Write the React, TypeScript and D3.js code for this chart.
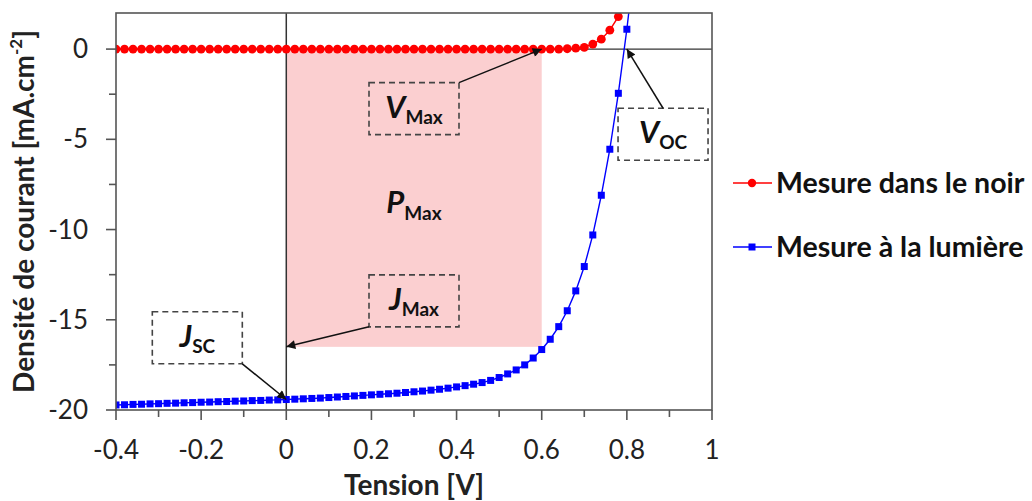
import React from "react";
import * as d3 from "d3";

const voltages = [
  -0.4, -0.38, -0.36, -0.34, -0.32, -0.3, -0.28, -0.26, -0.24, -0.22,
  -0.2, -0.18, -0.16, -0.14, -0.12, -0.1, -0.08, -0.06, -0.04, -0.02,
  0, 0.02, 0.04, 0.06, 0.08, 0.1, 0.12, 0.14, 0.16, 0.18,
  0.2, 0.22, 0.24, 0.26, 0.28, 0.3, 0.32, 0.34, 0.36, 0.38,
  0.4, 0.42, 0.44, 0.46, 0.48, 0.5, 0.52, 0.54, 0.56, 0.58,
  0.6, 0.62, 0.64, 0.66, 0.68, 0.7, 0.72, 0.74, 0.76, 0.78,
  0.8, 0.82,
];

const darkJ = [
  0, 0, 0, 0, 0, 0, 0, 0, 0, 0,
  0, 0, 0, 0, 0, 0, 0, 0, 0, 0,
  0, 0, 0, 0, 0, 0, 0, 0, 0, 0,
  0, 0, 0, 0, 0, 0, 0, 0, 0, 0,
  0, 0, 0, 0, 0, 0, 0, 0, 0, 0,
  0, 0, 0, 0.02, 0.05, 0.1, 0.28, 0.55, 1.05, 1.8,
  3.0, 5.0,
];

const lightJ = [
  -19.72, -19.71, -19.69, -19.68, -19.66, -19.65, -19.63, -19.62, -19.6, -19.59,
  -19.57, -19.56, -19.54, -19.53, -19.51, -19.5, -19.48, -19.47, -19.45, -19.44,
  -19.42, -19.4, -19.38, -19.36, -19.34, -19.31, -19.28, -19.25, -19.22, -19.19,
  -19.16, -19.13, -19.1, -19.07, -19.03, -18.99, -18.95, -18.9, -18.85, -18.79,
  -18.72, -18.65, -18.57, -18.48, -18.36, -18.2, -18.0, -17.78, -17.5, -17.12,
  -16.65, -16.08, -15.38, -14.5, -13.4, -12.05, -10.3, -8.1, -5.55, -2.45,
  1.1, 5.2,
];

const seriesNames = ["Mesure dans le noir", "Mesure à la lumière"];

const xTicks = [-0.4, -0.2, 0, 0.2, 0.4, 0.6, 0.8, 1];
const xTickLabels = ["-0.4", "-0.2", "0", "0.2", "0.4", "0.6", "0.8", "1"];
const xMinorTicks = [-0.3, -0.1, 0.1, 0.3, 0.5, 0.7, 0.9];
const yTicks = [0, -5, -10, -15, -20];
const yTickLabels = ["0", "-5", "-10", "-15", "-20"];
const yMinorTicks = [-2.5, -7.5, -12.5, -17.5];

// max power rectangle (V, J corners)
const pMaxV = [0, 0.6];
const pMaxJ = [0, -16.5];

// annotations: main letter, subscript, box center (V, J), arrow tip (V, J), arrow start corner
const annMain = ["V", "J", "V", "J"];
const annSub = ["Max", "Max", "OC", "SC"];
const annBoxV = [0.3, 0.3, 0.885, -0.209];
const annBoxJ = [-3.3, -13.95, -4.72, -16.0];
const annTipV = [0.6, 0, 0.8, 0];
const annTipJ = [0, -16.5, 0, -19.42];
const annAnchor = ["tr", "bl", "tc", "br"];

const W = 1032;
const H = 501;
const left = 116;
const right = 712;
const top = 13;
const bottom = 410;
const FONT = "Lato, 'Open Sans', sans-serif";

export default function App() {
  const x = d3.scaleLinear().domain([-0.4, 1]).range([left, right]);
  const y = d3.scaleLinear().domain([-20, 2]).range([bottom, top]);

  const darkData = voltages.map((v, i) => [v, darkJ[i]] as [number, number]);
  const lightData = voltages.map((v, i) => [v, lightJ[i]] as [number, number]);
  const line = d3
    .line<[number, number]>()
    .x((d) => x(d[0]))
    .y((d) => y(d[1]));

  const boxW = 90;
  const boxH = 52;

  return (
    <svg
      width={W}
      height={H}
      style={{ position: "absolute", left: 0, top: 0, background: "#fff" }}
    >
      <defs>
        <clipPath id="plotClip">
          <rect x={left} y={top} width={right - left} height={bottom - top} />
        </clipPath>
        <marker
          id="arrowHead"
          viewBox="0 0 10 10"
          refX="10"
          refY="5"
          markerWidth="11"
          markerHeight="9"
          markerUnits="userSpaceOnUse"
          orient="auto"
        >
          <path d="M0,0 L10,5 L0,10 z" fill="#111" />
        </marker>
      </defs>
      <rect width={W} height={H} fill="#fff" />

      {/* P max rectangle */}
      <rect
        x={x(pMaxV[0])}
        y={y(pMaxJ[0])}
        width={x(pMaxV[1]) - x(pMaxV[0])}
        height={y(pMaxJ[1]) - y(pMaxJ[0])}
        fill="#fbcfd0"
      />

      {/* zero lines */}
      <line x1={left} x2={right} y1={y(0)} y2={y(0)} stroke="#333" strokeWidth={1.2} />
      <line x1={x(0)} x2={x(0)} y1={top} y2={bottom} stroke="#333" strokeWidth={1.5} />

      {/* curves */}
      <g clipPath="url(#plotClip)">
        <path d={line(darkData) || ""} fill="none" stroke="#ff0000" strokeWidth={1.5} />
        {darkData.map((d, i) => (
          <circle key={"d" + i} cx={x(d[0])} cy={y(d[1])} r={4.4} fill="#ff0000" />
        ))}
        <path d={line(lightData) || ""} fill="none" stroke="#0000ff" strokeWidth={1.4} />
        {lightData.map((d, i) => (
          <rect
            key={"l" + i}
            x={x(d[0]) - 3.5}
            y={y(d[1]) - 3.5}
            width={7}
            height={7}
            fill="#0000ff"
          />
        ))}
      </g>

      {/* P max label */}
      <text x={x(0.3)} y={213} textAnchor="middle" fontFamily={FONT} fontWeight="bold" fill="#111">
        <tspan fontSize={31} fontStyle="italic">P</tspan>
        <tspan fontSize={19} dy={7}>Max</tspan>
      </text>

      {/* annotations */}
      {annMain.map((m, i) => {
        const cx = x(annBoxV[i]);
        const cy = y(annBoxJ[i]);
        const bx0 = cx - boxW / 2;
        const by0 = cy - boxH / 2;
        const a = annAnchor[i];
        let sx = cx;
        let sy = cy;
        if (a === "tr") { sx = bx0 + boxW; sy = by0; }
        if (a === "bl") { sx = bx0; sy = by0 + boxH; }
        if (a === "tc") { sx = cx; sy = by0; }
        if (a === "br") { sx = bx0 + boxW; sy = by0 + boxH; }
        return (
          <g key={"a" + i}>
            <rect
              x={bx0}
              y={by0}
              width={boxW}
              height={boxH}
              fill="none"
              stroke="#444"
              strokeWidth={1.6}
              strokeDasharray="6,4"
            />
            <line
              x1={sx}
              y1={sy}
              x2={x(annTipV[i])}
              y2={y(annTipJ[i])}
              stroke="#111"
              strokeWidth={1.5}
              markerEnd="url(#arrowHead)"
            />
            <text x={cx} y={cy + 9} textAnchor="middle" fontFamily={FONT} fontWeight="bold" fill="#111">
              <tspan fontSize={31} fontStyle="italic">{m}</tspan>
              <tspan fontSize={19} dy={6}>{annSub[i]}</tspan>
            </text>
          </g>
        );
      })}

      {/* frame */}
      <rect
        x={left}
        y={top}
        width={right - left}
        height={bottom - top}
        fill="none"
        stroke="#555"
        strokeWidth={1.6}
      />

      {/* y axis ticks */}
      {yTicks.map((t, i) => (
        <g key={"yt" + i}>
          <line x1={left - 10} x2={left} y1={y(t)} y2={y(t)} stroke="#555" strokeWidth={1.6} />
          <text
            x={88}
            y={y(t) + 9}
            textAnchor="end"
            fontFamily={FONT}
            fontSize={26}
            fill="#222"
          >
            {yTickLabels[i]}
          </text>
        </g>
      ))}
      {yMinorTicks.map((t, i) => (
        <line key={"ym" + i} x1={left - 7} x2={left} y1={y(t)} y2={y(t)} stroke="#555" strokeWidth={1.6} />
      ))}

      {/* x axis ticks */}
      {xTicks.map((t, i) => (
        <g key={"xt" + i}>
          <line x1={x(t)} x2={x(t)} y1={bottom} y2={bottom + 10} stroke="#555" strokeWidth={1.6} />
          <text
            x={x(t)}
            y={459}
            textAnchor="middle"
            fontFamily={FONT}
            fontSize={26}
            fill="#222"
          >
            {xTickLabels[i]}
          </text>
        </g>
      ))}
      {xMinorTicks.map((t, i) => (
        <line key={"xm" + i} x1={x(t)} x2={x(t)} y1={bottom} y2={bottom + 7} stroke="#555" strokeWidth={1.6} />
      ))}

      {/* axis titles */}
      <text
        x={(left + right) / 2}
        y={495}
        textAnchor="middle"
        fontFamily={FONT}
        fontSize={28}
        fontWeight="bold"
        fill="#222"
      >
        Tension [V]
      </text>
      <text
        transform={`translate(34, ${(top + bottom) / 2}) rotate(-90)`}
        textAnchor="middle"
        fontFamily={FONT}
        fontSize={28}
        fontWeight="bold"
        fill="#222"
      >
        Densité de courant [mA.cm<tspan fontSize={17} dy={-12}>-2</tspan>
        <tspan dy={12}>]</tspan>
      </text>

      {/* legend */}
      {seriesNames.map((s, i) => {
        const ly = 183 + i * 64;
        return (
          <g key={"lg" + i}>
            <line x1={733} x2={772} y1={ly} y2={ly} stroke={i === 0 ? "#ff0000" : "#0000ff"} strokeWidth={1.5} />
            {i === 0 ? (
              <circle cx={752} cy={ly} r={4.2} fill="#ff0000" />
            ) : (
              <rect x={748.5} y={ly - 3.5} width={7} height={7} fill="#0000ff" />
            )}
            <text x={776} y={ly + 10} fontFamily={FONT} fontSize={28.5} fontWeight="bold" fill="#111">
              {s}
            </text>
          </g>
        );
      })}
    </svg>
  );
}
